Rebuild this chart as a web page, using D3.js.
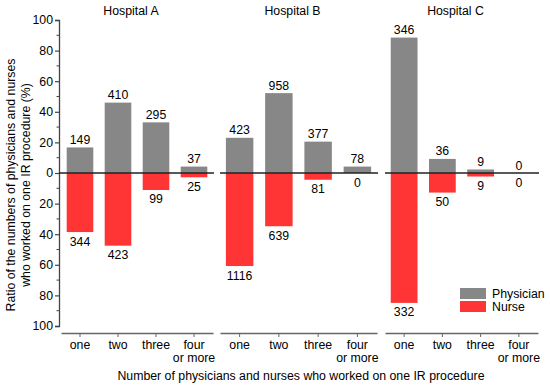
<!DOCTYPE html>
<html>
<head>
<meta charset="utf-8">
<script src="https://cdn.jsdelivr.net/npm/d3@7"></script>
<style>
  body { margin: 0; background: #fff; }
  text { font-family: "Liberation Sans", Arial, sans-serif; fill: #000; }
</style>
</head>
<body>
<div id="chart-area"></div>
<script>
let hospitals = ['Hospital A', 'Hospital B', 'Hospital C'];
let categories = ['one', 'two', 'three', 'four or more'];

// percent of staff (bar heights) and raw counts (labels)
let physicianPct = [[16.7, 46.0, 33.1, 4.2], [23.0, 52.2, 20.5, 4.2], [88.5, 9.2, 2.3, 0]];
let nursePct = [[38.6, 47.5, 11.1, 2.8], [60.8, 34.8, 4.4, 0], [84.9, 12.8, 2.3, 0]];
let physicianN = [[149, 410, 295, 37], [423, 958, 377, 78], [346, 36, 9, 0]];
let nurseN = [[344, 423, 99, 25], [1116, 639, 81, 0], [332, 50, 9, 0]];

let yTicks = [-100, -80, -60, -40, -20, 0, 20, 40, 60, 80, 100];

let width = 550, height = 388;
let panelRanges = [[61, 213], [220, 377], [385, 538]];
let fs = 12.3;

let svg = d3.select('#chart-area').append('svg')
  .attr('width', width)
  .attr('height', height);

let y = d3.scaleLinear()
  .domain([-100, 100])
  .range([326, 20]);

// y axis
let yAxis = d3.axisLeft(y)
  .tickValues(yTicks)
  .tickSize(4)
  .tickFormat(d => Math.abs(d));
let yG = svg.append('g')
  .attr('transform', 'translate(59, 0)')
  .call(yAxis);
yG.select('.domain').attr('stroke', '#444').attr('stroke-width', 1.3);
yG.selectAll('.tick line').attr('stroke', '#444').attr('stroke-width', 1.2);
yG.selectAll('.tick text').attr('font-size', fs).attr('x', -6).attr('fill', '#000');

let minor = d3.range(-90, 100, 20);
svg.append('g').selectAll('line')
  .data(minor)
  .enter()
  .append('line')
  .attr('x1', 56.5).attr('x2', 59)
  .attr('y1', d => y(d)).attr('y2', d => y(d))
  .attr('stroke', '#444');

let colors = { physician: '#878787', nurse: '#ff3535' };

hospitals.forEach((name, h) => {
  let x = d3.scaleBand()
    .domain(categories)
    .range(panelRanges[h])
    .paddingInner(0.3)
    .paddingOuter(0.15);

  let g = svg.append('g');

  g.append('text')
    .attr('x', (panelRanges[h][0] + panelRanges[h][1]) / 2 - 6)
    .attr('y', 15)
    .attr('text-anchor', 'middle')
    .attr('font-size', fs)
    .text(name);

  let rows = categories.map((c, i) => ({
    cat: c, p: physicianPct[h][i], n: nursePct[h][i],
    pn: physicianN[h][i], nn: nurseN[h][i]
  }));

  g.selectAll('rect.phys')
    .data(rows)
    .enter()
    .append('rect')
    .attr('class', 'phys')
    .attr('x', d => x(d.cat))
    .attr('width', x.bandwidth())
    .attr('y', d => y(d.p))
    .attr('height', d => y(0) - y(d.p))
    .attr('fill', colors.physician);

  g.selectAll('rect.nurse')
    .data(rows)
    .enter()
    .append('rect')
    .attr('class', 'nurse')
    .attr('x', d => x(d.cat))
    .attr('width', x.bandwidth())
    .attr('y', y(0))
    .attr('height', d => y(-d.n) - y(0))
    .attr('fill', colors.nurse);

  g.selectAll('text.pn')
    .data(rows)
    .enter()
    .append('text')
    .attr('class', 'pn')
    .attr('x', d => x(d.cat) + x.bandwidth() / 2)
    .attr('y', d => y(d.p) - 3.5)
    .attr('text-anchor', 'middle')
    .attr('font-size', fs)
    .text(d => d.pn);

  g.selectAll('text.nn')
    .data(rows)
    .enter()
    .append('text')
    .attr('class', 'nn')
    .attr('x', d => x(d.cat) + x.bandwidth() / 2)
    .attr('y', d => y(-d.n) + 13.5)
    .attr('text-anchor', 'middle')
    .attr('font-size', fs)
    .text(d => d.nn);

  // zero line
  g.append('line')
    .attr('x1', h === 0 ? 59 : panelRanges[h][0]).attr('x2', panelRanges[h][1] + 1)
    .attr('y1', y(0)).attr('y2', y(0))
    .attr('stroke', '#222')
    .attr('stroke-width', 1.3);

  // bottom axis
  let xAxis = d3.axisBottom(x).tickSize(4).tickSizeOuter(0).tickFormat('');
  let xG = g.append('g')
    .attr('transform', 'translate(0, 333)')
    .call(xAxis);
  xG.select('.domain').attr('stroke', '#666').attr('stroke-width', 1.5);
  xG.selectAll('.tick line').attr('stroke', '#666');

  categories.forEach(c => {
    let words = c === 'four or more' ? ['four', 'or more'] : [c];
    let t = g.append('text')
      .attr('x', x(c) + x.bandwidth() / 2)
      .attr('y', 349)
      .attr('text-anchor', 'middle')
      .attr('font-size', fs);
    words.forEach((w, i) => {
      t.append('tspan')
        .attr('x', x(c) + x.bandwidth() / 2)
        .attr('dy', i === 0 ? 0 : 12.5)
        .text(w);
    });
  });
});

// axis titles
svg.append('text')
  .attr('x', 301)
  .attr('y', 380)
  .attr('text-anchor', 'middle')
  .attr('font-size', fs)
  .text('Number of physicians and nurses who worked on one IR procedure');

let yTitle = svg.append('text')
  .attr('transform', 'translate(0, 185) rotate(-90)')
  .attr('text-anchor', 'middle')
  .attr('font-size', fs);
yTitle.append('tspan').attr('x', 0).attr('y', 15)
  .text('Ratio of the numbers of physicians and nurses');
yTitle.append('tspan').attr('x', 0).attr('y', 30)
  .text('who worked on one IR procedure (%)');

// legend
let legend = svg.append('g').attr('transform', 'translate(460, 288)');
[['Physician', colors.physician], ['Nurse', colors.nurse]].forEach((item, i) => {
  legend.append('rect')
    .attr('x', 0).attr('y', i * 13)
    .attr('width', 26).attr('height', 11)
    .attr('fill', item[1]);
  legend.append('text')
    .attr('x', 32).attr('y', i * 13 + 10)
    .attr('font-size', fs)
    .text(item[0]);
});
</script>
</body>
</html>
